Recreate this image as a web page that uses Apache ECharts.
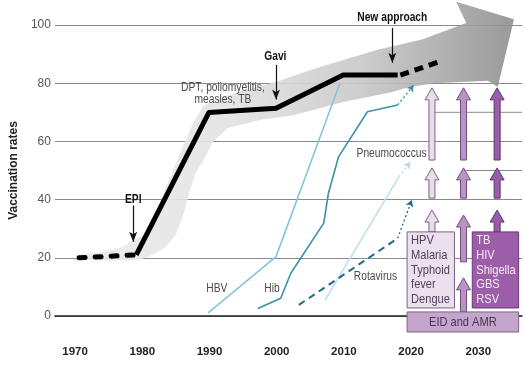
<!DOCTYPE html>
<html><head><meta charset="utf-8">
<script src="https://cdn.jsdelivr.net/npm/echarts@6/dist/echarts.min.js"></script>
<style>html,body{margin:0;padding:0;background:#fff}#c{width:525px;height:374px}</style>
</head><body><div id="c"></div>
<script>
// ---------- data ----------
const yearTicks = [1970, 1980, 1990, 2000, 2010, 2020, 2030];
const rateTicks = [0, 20, 40, 60, 80, 100];

const coreEarly = [[1970.6, 20], [1979.1, 21]];
const coreMain = [[1979.1, 21], [1989.9, 69.9], [1999.9, 71.4], [2009.9, 82.8], [2018, 82.8]];
const coreProjected = [[2018.4, 82.8], [2024.5, 87.6]];

const hbv = [[1989.8, 1.1], [1999.9, 20.4], [2009.4, 80]];
const hib = [[1997.2, 2.6], [2000.6, 6.1], [2002.1, 14.7], [2007.0, 31.9], [2007.7, 42.2], [2009.2, 54.7], [2013.5, 70.2], [2018, 72.5]];
const hibProjected = [[2018, 72.5], [2020.4, 79.4]];
const rotavirus = [[2003.3, 3.8], [2018, 26.7]];
const rotavirusProjected = [[2018, 26.7], [2020.1, 39.9]];
const pneumococcus = [[2007.2, 5.5], [2018.2, 47.9]];
const pneumococcusProjected = [[2018.2, 47.9], [2019.9, 53]];

// outline of the grey trend band + arrow (year, rate)
const bandOutline = [
  [1970.3, 19.5], [1975, 19], [1979.5, 19.2], [1981.5, 21], [1983.5, 23.7], [1985, 28], [1986, 34],
  [1987.2, 44], [1987.9, 49], [1989.4, 54.6], [1990.4, 59.5], [1992.7, 64.6], [1997.7, 67.4],
  [2002.5, 69], [2009.9, 73.5], [2017.2, 77], [2019.7, 78.7], [2023.5, 80], [2031.4, 80.8],
  [2032.9, 78.7], [2035.3, 102], [2026.7, 108], [2028.2, 100.7],
  [2021.6, 95], [2015, 91.5], [2009.9, 88], [2005, 84.5], [2000, 80.5], [1995, 77.5], [1991, 74.5],
  [1989, 72], [1987.5, 66], [1985.4, 54.6], [1983.5, 44], [1982, 34], [1980.5, 28], [1978.6, 26],
  [1977.2, 23.7], [1974, 22], [1972.2, 21.6], [1970.3, 21]
];

// milestone arrows: [year, from, to]
const milestoneArrows = [[1978.65, 38, 25.5], [1999.9, 86.3, 74.4], [2017.2, 99, 87]];
const milestoneNames = ['EPI', 'Gavi', 'New approach'];
const milestoneAnchors = [[1978.65, 39.9], [1999.8, 89], [2017.2, 102.7]];

const seriesNames = ['DPT, poliomyelitis,\nmeasles, TB', 'HBV', 'Hib', 'Rotavirus', 'Pneumococcus'];
const seriesAnchors = [[1992, 76.6], [1991.1, 9.3], [1999.3, 9.3], [2014.7, 13.4], [2017.1, 55.7]];

// pipeline arrows
const columnYears = [2023.1, 2027.8, 2032.8];
const pipelineArrows = [ // [column, base, tip]
  [0, 53.6, 78.4], [0, 40.5, 50.9], [0, 28.9, 36.4],
  [1, 53.6, 78.4], [1, 40.5, 50.9], [1, 18.6, 34.7], [1, 1.4, 13.1],
  [2, 53.6, 78.4], [2, 40.5, 50.9], [2, 28.9, 36.4]
];
const guideLines = [[[2023.1, 70], [2036.5, 70]], [[2027.8, 50], [2036.5, 50]]];

const boxLabels = [['HPV', 'Malaria', 'Typhoid', 'fever', 'Dengue'], ['TB', 'HIV', 'Shigella', 'GBS', 'RSV'], ['EID and AMR']];
const boxExtents = [[2019.4, 2026.45, 28.9, 2.75], [2029.1, 2036.0, 28.9, 2.75], [2019.4, 2036.0, 1.4, -5.5]];

// ---------- styles ----------
const FONT = "'Liberation Sans', Arial, sans-serif";
const NARROW = 0.82;
const colFill = ['#eadcec', '#b993c4', '#9a5da8'];
const colStroke = ['#7a6282', '#6f4f7b', '#5e3470'];
const boxFill = ['#ebe0ed', '#9c5ea9', '#c4a6cc'];
const boxStroke = ['#7d6485', '#6a3a78', '#7d6485'];
const boxText = ['#54405c', '#f4eaf6', '#4a3450'];

const chart = echarts.init(document.getElementById('c'), null, {renderer: 'canvas'});

function lineSeries(data, color, width, type, extra) {
  return Object.assign({
    type: 'line', data: data, symbol: 'none', showSymbol: false, clip: false, silent: true,
    animation: false, lineStyle: {color: color, width: width, type: type || 'solid', cap: 'butt', join: 'round'}
  }, extra || {});
}
function projection(seg, color) {
  return {
    silent: true, animation: false, symbol: ['none', 'arrow'], symbolSize: [6, 7],
    label: {show: false}, emphasis: {disabled: true},
    lineStyle: {color: color, width: 1.3, type: [2, 2.5]},
    data: [[{coord: seg[0]}, {coord: seg[1]}]]
  };
}
function narrowText(x, y, text, opts) {
  return {
    type: 'text', x: x, y: y, scaleX: NARROW,
    style: Object.assign({text: text, x: 0, y: 0, fontFamily: FONT}, opts)
  };
}

const bandGradient = new echarts.graphic.LinearGradient(0, 0, 1, 0, [
  {offset: 0, color: '#ebebeb'}, {offset: 0.35, color: '#e3e3e3'},
  {offset: 0.65, color: '#c8c8c8'}, {offset: 1, color: '#8f8f8f'}
]);

const annotations = milestoneNames.map((n, i) => [milestoneAnchors[i][0], milestoneAnchors[i][1], i, 1])
  .concat(seriesNames.map((n, i) => [seriesAnchors[i][0], seriesAnchors[i][1], i, 0]));

const option = {
  animation: false,
  grid: {left: 48, right: 3, top: 25, bottom: 58},
  xAxis: {
    type: 'value', min: 1967, max: 2036.5, offset: 19,
    splitLine: {show: false}, axisTick: {show: false},
    axisLine: {show: true, lineStyle: {color: '#222', width: 1.5}},
    axisLabel: {customValues: yearTicks, formatter: v => String(v), fontWeight: 'bold', fontSize: 11.5,
      color: '#222', margin: 11, fontFamily: FONT}
  },
  yAxis: {
    type: 'value', min: 0, max: 100, interval: 20,
    axisLine: {show: false}, axisTick: {show: false},
    splitLine: {lineStyle: {color: '#8a8a8a', width: 1}},
    axisLabel: {margin: 4, color: '#555', fontSize: 12, fontFamily: FONT,
      formatter: v => rateTicks.indexOf(v) >= 0 ? String(v) : ''},
    name: 'Vaccination rates', nameLocation: 'middle', nameGap: 30,
    nameTextStyle: {fontWeight: 'bold', fontSize: 12, color: '#222', fontFamily: FONT}
  },
  series: [
    { // grey trend band
      type: 'custom', coordinateSystem: 'cartesian2d', clip: false, silent: true, z: 1,
      data: bandOutline,
      renderItem: function (params, api) {
        if (params.dataIndex !== 0) return;
        const pts = bandOutline.map(p => api.coord(p));
        return {type: 'polygon', shape: {points: pts}, style: {fill: bandGradient, opacity: 0.9}};
      }
    },
    lineSeries(guideLines[0], '#8a8a8a', 1, 'solid', {z: 2}),
    lineSeries(guideLines[1], '#8a8a8a', 1, 'solid', {z: 2}),
    lineSeries(pneumococcus, '#c2e0ec', 1.6, 'solid', {z: 3, markLine: projection(pneumococcusProjected, '#b5d9e8')}),
    lineSeries(hbv, '#86c4db', 1.6, 'solid', {z: 3}),
    lineSeries(hib, '#3b90aa', 1.6, 'solid', {z: 3, markLine: projection(hibProjected, '#3b90aa')}),
    lineSeries(rotavirus, '#1d6a84', 2, [7, 5], {z: 3, markLine: projection(rotavirusProjected, '#1d6a84')}),
    lineSeries(coreEarly, '#000', 5, [6, 9], {z: 4, lineStyle: {color: '#000', width: 5, type: [6, 10], cap: 'round'}}),
    lineSeries(coreMain, '#000', 5, 'solid', {
      z: 4,
      markLine: {
        silent: true, animation: false, symbol: ['none', 'arrow'], symbolSize: [6, 10],
        label: {show: false}, emphasis: {disabled: true},
        lineStyle: {color: '#111', width: 1.2, type: 'solid'},
        data: milestoneArrows.map(a => [{coord: [a[0], a[1]]}, {coord: [a[0], a[2]]}])
      }
    }),
    lineSeries(coreProjected, '#000', 5, [9, 6], {z: 4}),
    { // pipeline arrows
      type: 'custom', coordinateSystem: 'cartesian2d', clip: false, silent: true, z: 5,
      data: pipelineArrows.map(a => [columnYears[a[0]], a[1], a[2], a[0]]),
      renderItem: function (params, api) {
        const col = api.value(3);
        const b = api.coord([api.value(0), api.value(1)]);
        const t = api.coord([api.value(0), api.value(2)]);
        const cx = b[0], w = 3, hw = 7, hl = 12;
        const pts = [[cx - w, b[1]], [cx - w, t[1] + hl], [cx - hw, t[1] + hl], [cx, t[1]],
                     [cx + hw, t[1] + hl], [cx + w, t[1] + hl], [cx + w, b[1]]];
        return {type: 'polygon', shape: {points: pts}, style: {fill: colFill[col], stroke: colStroke[col], lineWidth: 1}};
      }
    },
    { // candidate boxes
      type: 'custom', coordinateSystem: 'cartesian2d', clip: false, silent: true, z: 6,
      data: boxExtents.map((e, i) => [e[0], e[2], e[1], e[3], i]),
      renderItem: function (params, api) {
        const i = api.value(4);
        const p0 = api.coord([api.value(0), api.value(1)]);
        const p1 = api.coord([api.value(2), api.value(3)]);
        const x = p0[0], y = p0[1], w = p1[0] - p0[0], h = p1[1] - p0[1];
        const centred = boxLabels[i].length === 1;
        return {
          type: 'group', children: [
            {type: 'rect', shape: {x: x, y: y, width: w, height: h}, style: {fill: boxFill[i], stroke: boxStroke[i], lineWidth: 1}},
            narrowText(centred ? x + w / 2 : x + 4, centred ? y + h / 2 + 0.5 : y + 1.5, boxLabels[i].join('\n'), {
              align: centred ? 'center' : 'left', verticalAlign: centred ? 'middle' : 'top',
              fill: boxText[i], fontSize: 13.5, lineHeight: 14.6
            })
          ]
        };
      }
    },
    { // text annotations
      type: 'custom', coordinateSystem: 'cartesian2d', clip: false, silent: true, z: 7,
      data: annotations,
      renderItem: function (params, api) {
        const p = api.coord([api.value(0), api.value(1)]);
        const bold = api.value(3) === 1;
        const txt = bold ? milestoneNames[api.value(2)] : seriesNames[api.value(2)];
        return narrowText(p[0], p[1], txt, {
          align: 'center', verticalAlign: 'middle', fontSize: 12.5, lineHeight: 12,
          fontWeight: bold ? 'bold' : 'normal', fill: bold ? '#111' : '#4a4a4a'
        });
      }
    }
  ]
};
chart.setOption(option);
</script></body></html>
